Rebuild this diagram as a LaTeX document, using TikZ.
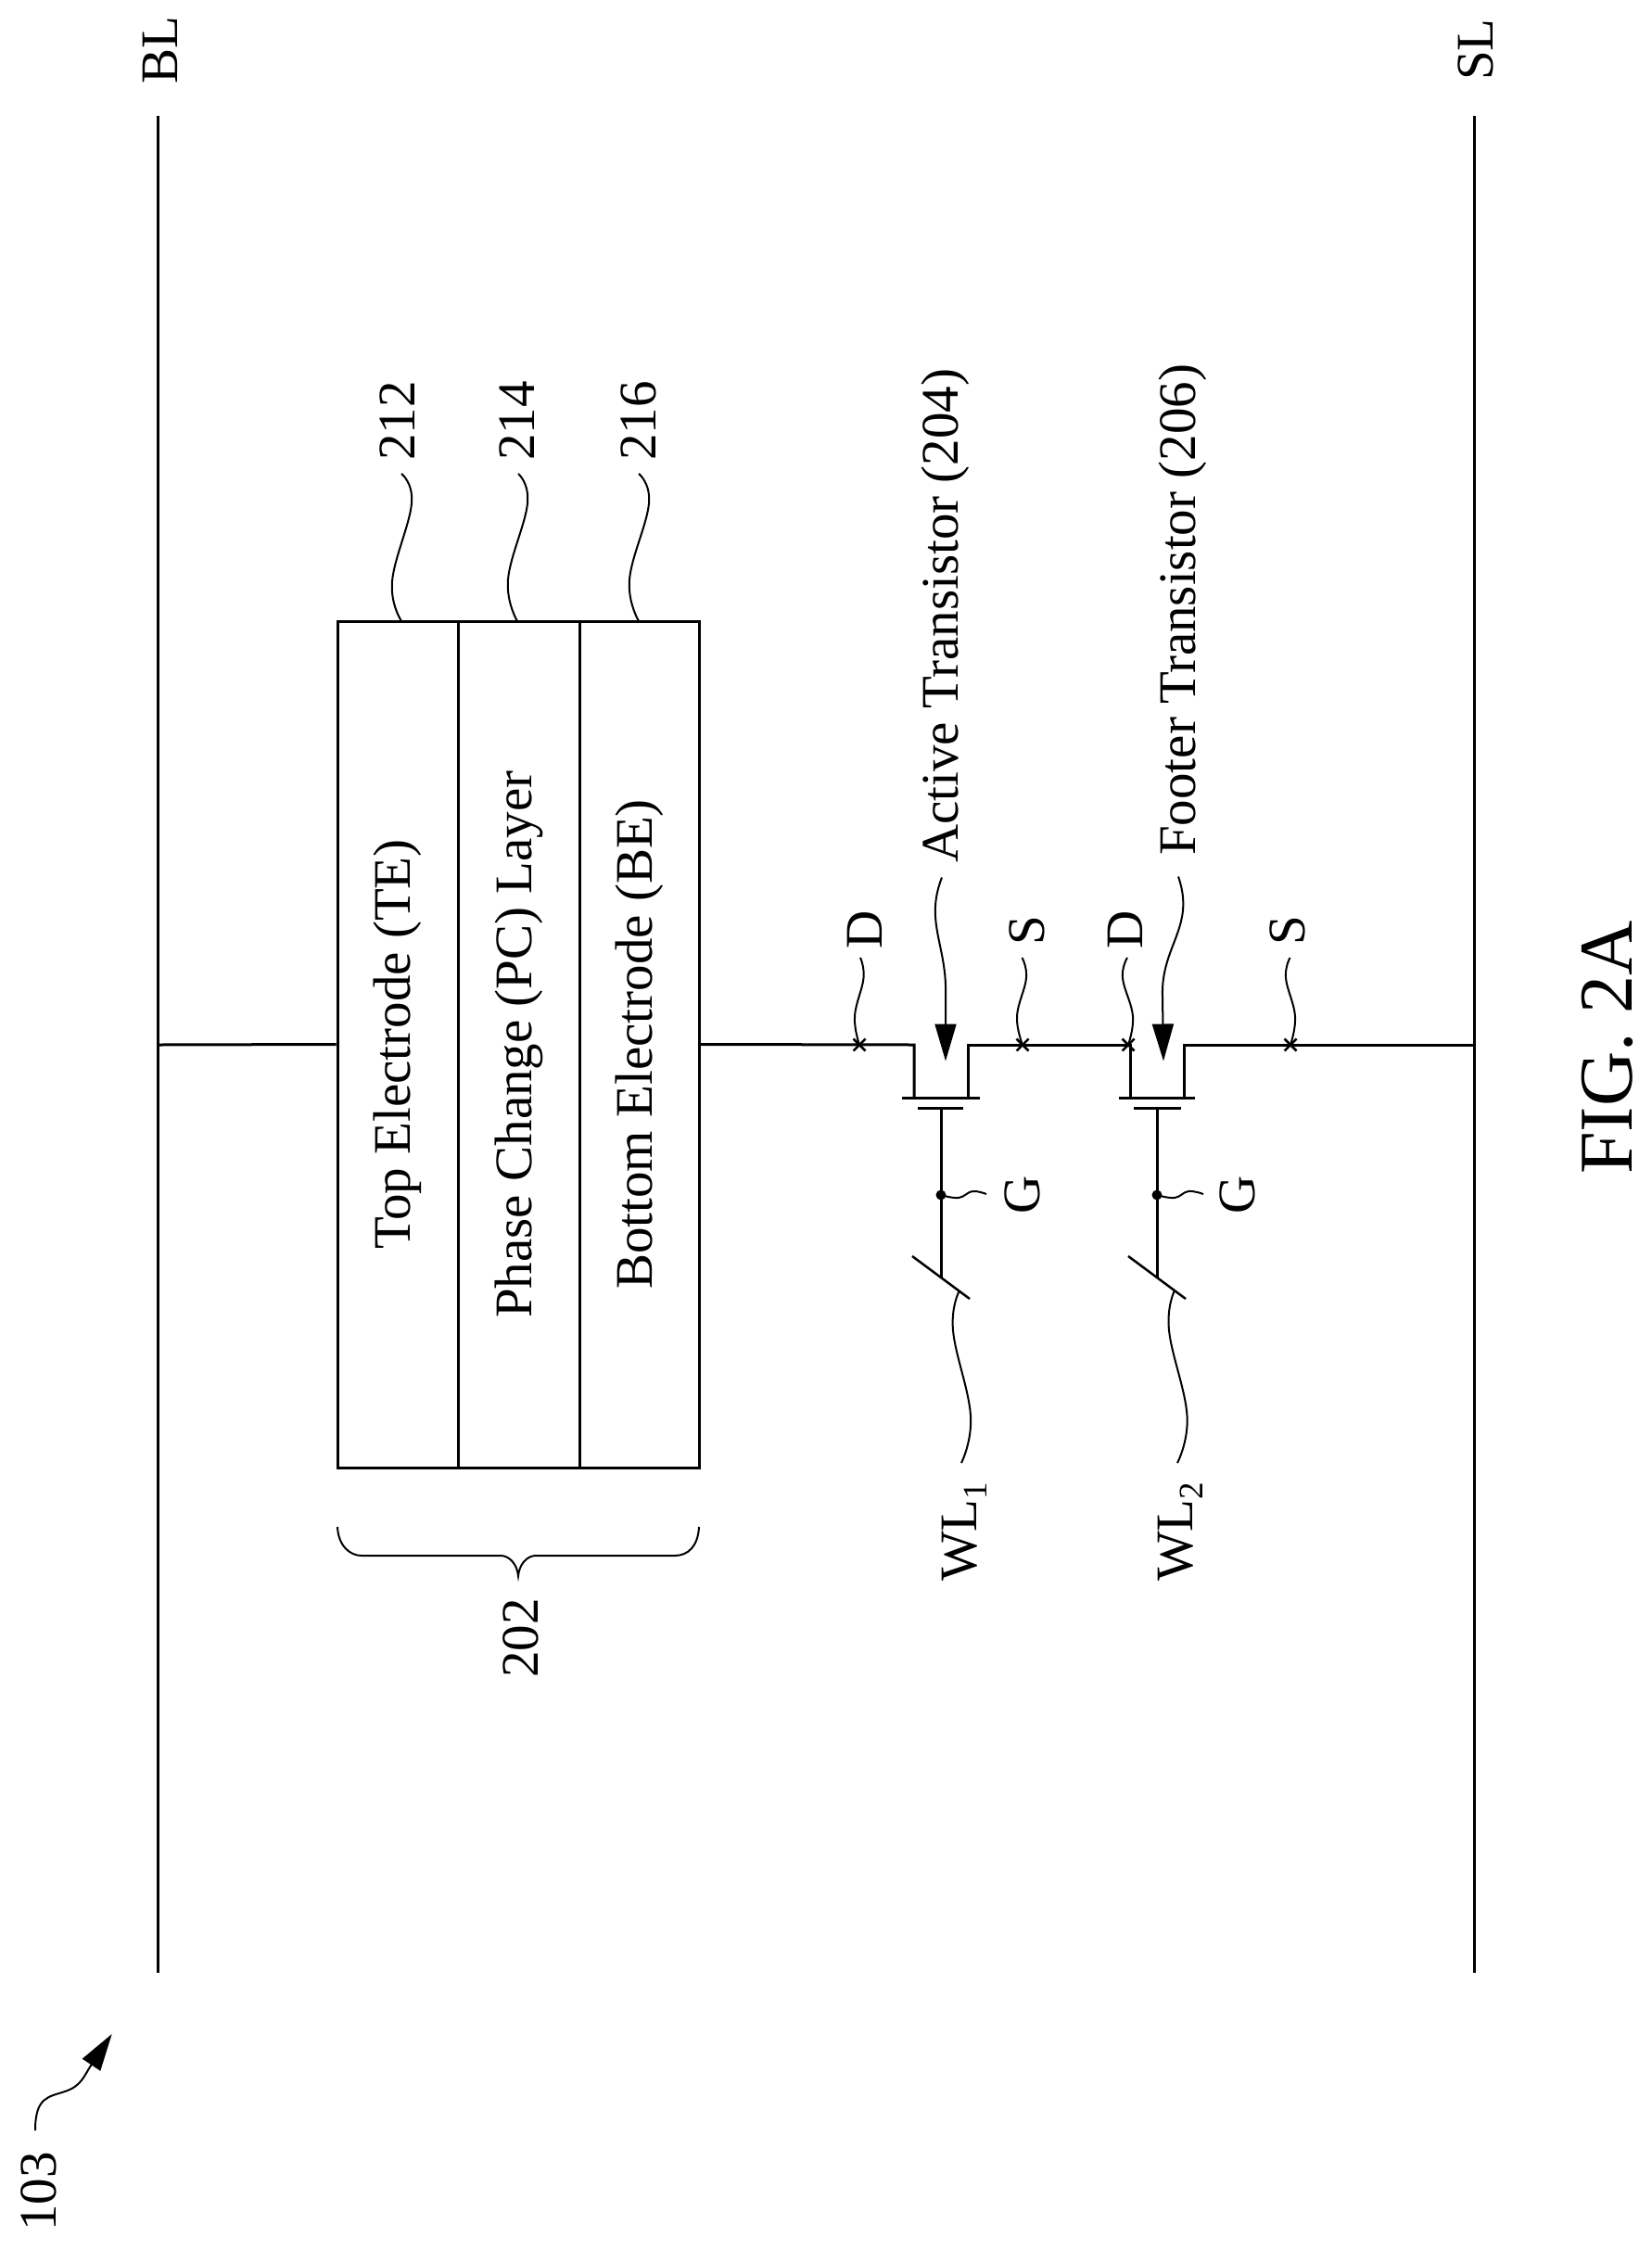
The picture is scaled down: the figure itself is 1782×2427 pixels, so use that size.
\documentclass[tikz,border=0pt]{standalone}
\usepackage{fontspec}
\setmainfont{Liberation Serif}
\usetikzlibrary{arrows.meta,shapes.misc}
\tikzset{
  wire/.style={line width=3pt},
  thin wire/.style={line width=2pt},
  layerbox/.style={draw,line width=3pt,rotate=90,minimum width=913pt,minimum height=130pt,inner sep=0pt,fill=white,font=\fontsize{57}{60}\selectfont},
  lab/.style={rotate=90,anchor=base west,inner sep=0pt,font=\fontsize{57}{60}\selectfont},
  figlab/.style={rotate=90,anchor=base west,inner sep=0pt,font=\fontsize{82}{86}\selectfont},
  xmark/.style={cross out,draw,line width=2.5pt,minimum size=13pt,inner sep=0pt,outer sep=0pt},
  gdot/.style={circle,fill=black,minimum size=11pt,inner sep=0pt},
  leader/.style={line width=2pt,smooth,tension=0.7},
  tipped/.style={line width=2pt,-{Triangle[length=40pt,width=23pt]}},
  sub/.style={}
}
\newcommand{\lsub}[1]{\raisebox{-11pt}{\fontsize{37}{37}\selectfont #1}}
\begin{document}
\begin{tikzpicture}[x=1pt,y=-1pt]
\path[use as bounding box,fill=white] (0,0) rectangle (1782,2427);
% rails
\coordinate (blt) at (170.5,125); \coordinate (blb) at (170.5,2128); \coordinate (blj) at (170.5,1127);
\coordinate (slt) at (1590.5,125); \coordinate (slb) at (1590.5,2128); \coordinate (slj) at (1590.5,1127);
\draw[wire] (blt) -- (blb);
\draw[wire] (slt) -- (slb);
\node[lab] (blabel) at (191,91) {BL};
\node[lab] (slabel) at (1610,87) {SL};
% layer boxes
\node[layerbox] (te) at (429,1126.5) {Top Electrode (TE)};
\node[layerbox,minimum height=131pt] (pc) at (559.5,1126.5) {Phase Change (PC) Layer};
\node[layerbox,minimum height=129pt] (be) at (689.5,1126.5) {Bottom Electrode (BE)};
% transistor points
\coordinate (t1a) at (986,1127); \coordinate (t1b) at (986,1184);
\coordinate (t1c) at (1044,1184); \coordinate (t1d) at (1044,1127);
\coordinate (t2a) at (1219,1127); \coordinate (t2b) at (1219,1184);
\coordinate (t2c) at (1277,1184); \coordinate (t2d) at (1277,1127);
% main wire
\draw[wire] (blj) -- (te.north);
\draw[wire,line join=miter] (be.south) -- (t1a) -- (t1b);
\draw[wire] (t1c) -- (t1d) -- (t2a) -- (t2b);
\draw[wire] (t2c) -- (t2d) -- (slj);
% channels and gates
\coordinate (c1l) at (973,1184); \coordinate (c1r) at (1057,1184);
\coordinate (g1l) at (990,1195.5); \coordinate (g1r) at (1039,1195.5); \coordinate (g1m) at (1015,1195.5);
\coordinate (c2l) at (1207,1184); \coordinate (c2r) at (1289,1184);
\coordinate (g2l) at (1223,1195.5); \coordinate (g2r) at (1274,1195.5); \coordinate (g2m) at (1248,1195.5);
\draw[wire] (c1l) -- (c1r);
\draw[wire] (g1l) -- (g1r);
\draw[wire] (c2l) -- (c2r);
\draw[wire] (g2l) -- (g2r);
\coordinate (s1a) at (984,1355); \coordinate (s1b) at (1046,1401); \coordinate (s1m) at (1015,1378);
\coordinate (s2a) at (1217,1355); \coordinate (s2b) at (1279,1401); \coordinate (s2m) at (1248,1378);
\draw[wire] (g1m) -- (s1m);
\draw[wire] (g2m) -- (s2m);
\draw[thin wire,line width=2.5pt] (s1a) -- (s1b);
\draw[thin wire,line width=2.5pt] (s2a) -- (s2b);
\node[gdot] (dot1) at (1015,1289) {};
\node[gdot] (dot2) at (1248,1289) {};
% x marks
\node[xmark] (xd1) at (927,1127) {};
\node[xmark] (xs1) at (1103,1127) {};
\node[xmark] (xd2) at (1217,1127) {};
\node[xmark] (xs2) at (1392,1127) {};
% small labels
\node[lab] (ld1) at (951,1024) {D};
\node[lab] (ls1) at (1126,1020) {S};
\node[lab] (ld2) at (1232,1024) {D};
\node[lab] (ls2) at (1407,1020) {S};
\node[lab] (lg1) at (1121,1310) {G};
\node[lab] (lg2) at (1353,1310) {G};
\node[lab] (lw1) at (1053,1706) {WL\lsub{1}};
\node[lab] (lw2) at (1286,1706) {WL\lsub{2}};
% leaders D,S
\coordinate (ed1) at (928,1033); \coordinate (es1) at (1102.5,1033);
\coordinate (ed2) at (1216,1033); \coordinate (es2) at (1391.5,1033);
\draw[leader] plot coordinates {(ed1) (931.5,1055) (922,1096) (xd1.center)};
\draw[leader] plot coordinates {(es1) (1107,1055) (1097,1096) (xs1.center)};
\draw[leader] plot coordinates {(ed2) (1211,1055) (1222,1096) (xd2.center)};
\draw[leader] plot coordinates {(es2) (1387,1055) (1397,1096) (xs2.center)};
% leaders G
\coordinate (eg1) at (1064,1288); \coordinate (eg2) at (1298,1288);
\draw[leader] plot coordinates {(dot1.center) (1034,1292) (1049,1285) (eg1)};
\draw[leader] plot coordinates {(dot2.center) (1267,1292) (1282,1285) (eg2)};
% leaders WL
\coordinate (sw1) at (1035,1392); \coordinate (ew1) at (1037,1578);
\coordinate (sw2) at (1267,1392); \coordinate (ew2) at (1270,1578);
\draw[leader] plot coordinates {(sw1) (1028,1435) (1047,1527) (ew1)};
\draw[leader] plot coordinates {(sw2) (1261,1435) (1280.5,1527) (ew2)};
% transistor name labels and arrows
\node[lab] (lat) at (1033,931) {Active Transistor (204)};
\node[lab] (lft) at (1289,923) {Footer Transistor (206)};
\coordinate (aa) at (1016,946.5); \coordinate (ab) at (1020,1144.5);
\coordinate (fa) at (1271,945.5); \coordinate (fb) at (1255,1144.5);
\draw[tipped] (aa) .. controls (997,995) and (1022,1020) .. (1020,1075) -- (ab);
\draw[tipped] (fa) .. controls (1290,1000) and (1252,1020) .. (1254,1075) -- (fb);
% layer reference numbers
\node[lab] (n212) at (447,497) {212};
\node[lab] (n214) at (576,497) {214};
\node[lab] (n216) at (707,497) {216};
\coordinate (n212e) at (433,511); \coordinate (n214e) at (559,511); \coordinate (n216e) at (689,511);
\coordinate (te212) at (433,670); \coordinate (pc214) at (558,670); \coordinate (be216) at (689,670);
\draw[leader] plot coordinates {(n212e) (444,543) (423,627) (te212)};
\draw[leader] plot coordinates {(n214e) (569,543) (548,625) (pc214)};
\draw[leader] plot coordinates {(n216e) (700,543) (679,625) (be216)};
% brace
\coordinate (brl) at (364,1647); \coordinate (brr) at (754,1647); \coordinate (brt) at (559,1700);
\draw[line width=2pt] (brl) .. controls (365,1668) and (378,1678) .. (390,1678) -- (540,1678)
  .. controls (550,1678) and (558,1688) .. (brt)
  .. controls (560,1688) and (568,1678) .. (578,1678) -- (728,1678)
  .. controls (742,1678) and (753,1668) .. (brr);
\node[lab] (n202) at (580,1810) {202};
% figure title
\node[figlab] (fig) at (1760,1267) {FIG. 2A};
% 103
\node[lab] (n103) at (60,2407) {103};
\coordinate (a103s) at (38,2298); \coordinate (a103t) at (120.7,2194);
\draw[tipped] (a103s) .. controls (38,2262) and (52,2262) .. (70,2256)
  .. controls (88,2250) and (90,2240) .. (a103t);
\end{tikzpicture}
\end{document}
